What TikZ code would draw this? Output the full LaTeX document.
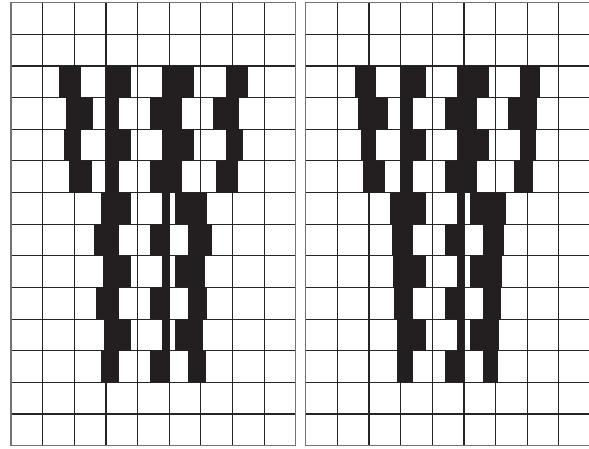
\documentclass[tikz,border=0pt]{standalone}
\usepackage{tikz}
\definecolor{ink}{RGB}{35,31,32}
\definecolor{rule}{RGB}{38,36,36}
\definecolor{frame}{RGB}{115,115,115}
\tikzset{
  gridline/.style  = {draw=rule, line width=0.85pt},
  gridframe/.style = {draw=frame, line width=0.9pt},
  bar/.style       = {fill=ink, draw=none}
}

\begin{document}
\begin{tikzpicture}[x=0.25mm, y=-0.25mm]
\useasboundingbox (0,0) rectangle (589,449);

% ---------- cell size and grid origins ----------
\def\cs{31.64}    % one cell
\def\gtop{2.7}    % top edge of both grids
\def\gxl{11}      % left grid
\def\gxr{305.7}   % right grid (its last border falls off the page)

% ---------- the two 9 x 14 grids ----------
\foreach \gx in {\gxl,\gxr} {
  \foreach \i in {1,...,8}
    \draw[gridline] ({\gx+\i*\cs},\gtop) -- ++(0,{14*\cs});
  \foreach \j in {1,...,13}
    \draw[gridline] (\gx,{\gtop+\j*\cs}) -- ++({9*\cs},0);
  \draw[gridframe] (\gx,\gtop) rectangle ++({9*\cs},{14*\cs});
}

% ---------- black bars, left grid ----------
% row / from / to, x measured from the grid's left edge
\foreach \r/\a/\b in {2/48/70, 2/95/120, 2/151/183, 2/215/237,
                      3/55/82, 3/95/108, 3/139/171, 3/202/228,
                      4/53/70, 4/95/120, 4/151/183, 4/215/232,
                      5/58/81, 5/95/108, 5/139/171, 5/205/227,
                      6/90/120, 6/151/159, 6/164/196,
                      7/83/108, 7/139/159, 7/177/201,
                      8/92/120, 8/151/159, 8/164/194,
                      9/85/108, 9/139/159, 9/177/196,
                      10/93/120, 10/151/159, 10/164/192,
                      11/90/108, 11/139/159, 11/177/195} {
  \fill[bar] ({\gxl+\a},{\gtop+\r*\cs}) rectangle ({\gxl+\b},{\gtop+(\r+1)*\cs});
}

% ---------- black bars, right grid ----------
\foreach \r/\a/\b in {2/49/70, 2/94/120, 2/151/183, 2/214/234,
                      3/52/82, 3/94/107, 3/139/171, 3/202/231,
                      4/55/70, 4/94/120, 4/151/183, 4/214/230,
                      5/57/79, 5/94/107, 5/139/171, 5/208/227,
                      6/84/120, 6/151/158, 6/164/200,
                      7/86/107, 7/139/158, 7/177/198,
                      8/87/120, 8/151/158, 8/164/196,
                      9/88/107, 9/139/158, 9/177/195,
                      10/91/120, 10/151/158, 10/164/193,
                      11/91/107, 11/139/158, 11/177/192} {
  \fill[bar] ({\gxr+\a},{\gtop+\r*\cs}) rectangle ({\gxr+\b},{\gtop+(\r+1)*\cs});
}

\end{tikzpicture}
\end{document}
